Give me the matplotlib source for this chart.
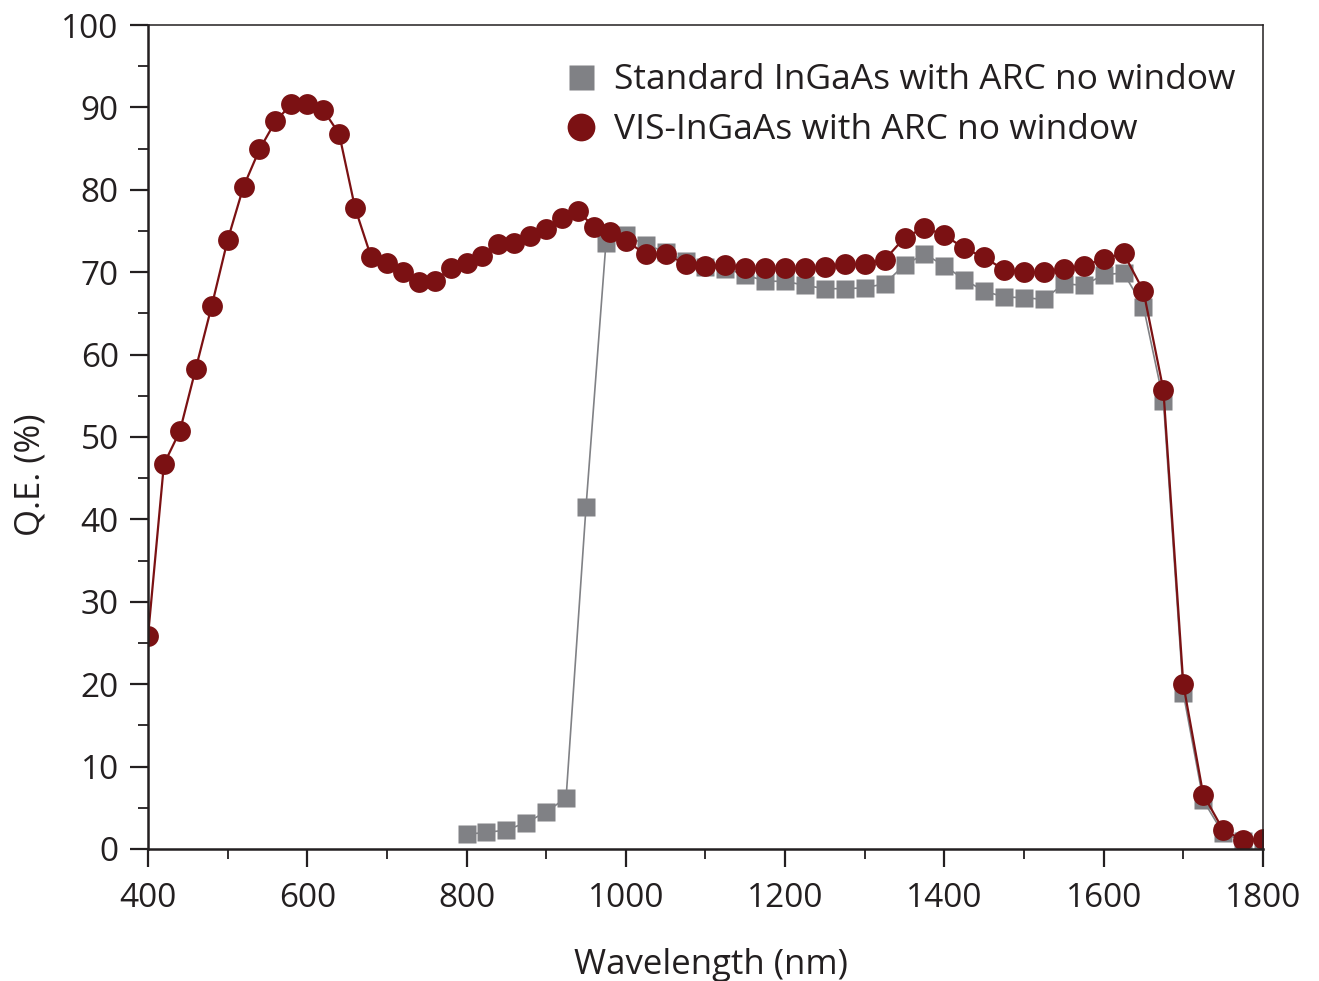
import numpy as np
import matplotlib

matplotlib.use("Agg")
import matplotlib.pyplot as plt
from matplotlib.ticker import MultipleLocator
from matplotlib.lines import Line2D

plt.rcParams["font.family"] = ["Open Sans", "DejaVu Sans"]
plt.rcParams["text.color"] = "#231f20"
plt.rcParams["axes.labelcolor"] = "#231f20"
plt.rcParams["xtick.color"] = "#231f20"
plt.rcParams["ytick.color"] = "#231f20"

# VIS-InGaAs with ARC, no window
vis_nm = [400, 420, 440, 460, 480, 500, 520, 540, 560, 580, 600, 620, 640,
          660, 680, 700, 720, 740, 760, 780, 800, 820, 840, 860, 880, 900,
          920, 940, 960, 980, 1000, 1025, 1050, 1075, 1100, 1125, 1150, 1175,
          1200, 1225, 1250, 1275, 1300, 1325, 1350, 1375, 1400, 1425, 1450,
          1475, 1500, 1525, 1550, 1575, 1600, 1625, 1650, 1675, 1700, 1725,
          1750, 1775, 1800]
vis_qe = [25.8, 46.7, 50.7, 58.3, 65.9, 73.9, 80.4, 84.9, 88.3, 90.4, 90.4,
          89.7, 86.8, 77.8, 71.9, 71.1, 70.0, 68.8, 68.9, 70.5, 71.1, 72.0,
          73.4, 73.5, 74.4, 75.2, 76.6, 77.4, 75.5, 74.9, 73.8, 72.2, 72.2,
          71.0, 70.8, 70.9, 70.5, 70.5, 70.5, 70.5, 70.6, 71.0, 71.0, 71.5,
          74.2, 75.4, 74.5, 72.9, 71.8, 70.3, 70.0, 70.0, 70.4, 70.8, 71.6,
          72.3, 67.7, 55.7, 20.0, 6.6, 2.3, 1.1, 1.2]

# Standard InGaAs with ARC, no window
std_nm = [800, 825, 850, 875, 900, 925, 950, 975, 1000, 1025, 1050, 1075,
          1100, 1125, 1150, 1175, 1200, 1225, 1250, 1275, 1300, 1325, 1350,
          1375, 1400, 1425, 1450, 1475, 1500, 1525, 1550, 1575, 1600, 1625,
          1650, 1675, 1700, 1725, 1750, 1775, 1800]
std_qe = [1.8, 2.0, 2.3, 3.2, 4.5, 6.2, 41.5, 73.5, 74.5, 73.3, 72.5, 71.3,
          70.6, 70.4, 69.7, 68.9, 68.9, 68.4, 68.0, 68.0, 68.1, 68.6, 70.9,
          72.2, 70.8, 69.1, 67.7, 67.0, 66.9, 66.7, 68.6, 68.4, 69.7, 69.9,
          65.8, 54.4, 18.9, 5.9, 1.9, 1.0, 0.9]

grey = "#808185"
darkred = "#7b1113"

fg = plt.figure(figsize=(13.19, 9.81), dpi=100)
ax = fg.add_axes([0.1122, 0.1346, 0.8453, 0.8399])

ax.plot(std_nm, std_qe, linestyle="-", lw=1.2, color=grey,
        marker="s", ms=13.5, mec="none", mfc=grey)
ax.plot(vis_nm, vis_qe, linestyle="-", lw=1.6, color=darkred,
        marker="o", ms=15, mec="none", mfc=darkred)

ax.set_xlim(400, 1800)
ax.set_ylim(0, 100)
ax.xaxis.set_major_locator(MultipleLocator(200))
ax.xaxis.set_minor_locator(MultipleLocator(100))
ax.yaxis.set_major_locator(MultipleLocator(10))
ax.yaxis.set_minor_locator(MultipleLocator(5))
ax.tick_params(which="major", direction="out", length=13, width=1.6,
               labelsize=24, pad=8)
ax.tick_params(axis="x", which="major", pad=11)
ax.tick_params(which="minor", direction="out", length=7, width=1.3)

for s in ["left", "bottom"]:
    ax.spines[s].set_linewidth(1.8)
    ax.spines[s].set_color("#231f20")
for s in ["top", "right"]:
    ax.spines[s].set_linewidth(1.1)
    ax.spines[s].set_color("#231f20")

ax.set_xlabel("Wavelength (nm)", fontsize=25)
ax.set_ylabel("Q.E. (%)", fontsize=25)
ax.xaxis.set_label_coords(0.505, -0.12)
ax.yaxis.set_label_coords(-0.09, 0.454)

handles = [
    Line2D([], [], linestyle="", marker="s", ms=18, mec="none", mfc=grey),
    Line2D([], [], linestyle="", marker="o", ms=20, mec="none", mfc=darkred),
]
labels = ["Standard InGaAs with ARC no window", "VIS-InGaAs with ARC no window"]
ax.legend(handles, labels, loc="upper left", bbox_to_anchor=(0.35, 0.984),
          frameon=False, fontsize=25.5, handlelength=1.0, handletextpad=0.45,
          labelspacing=0.45, borderpad=0.2)

fg.savefig("out.png", dpi=100)
plt.close(fg)
